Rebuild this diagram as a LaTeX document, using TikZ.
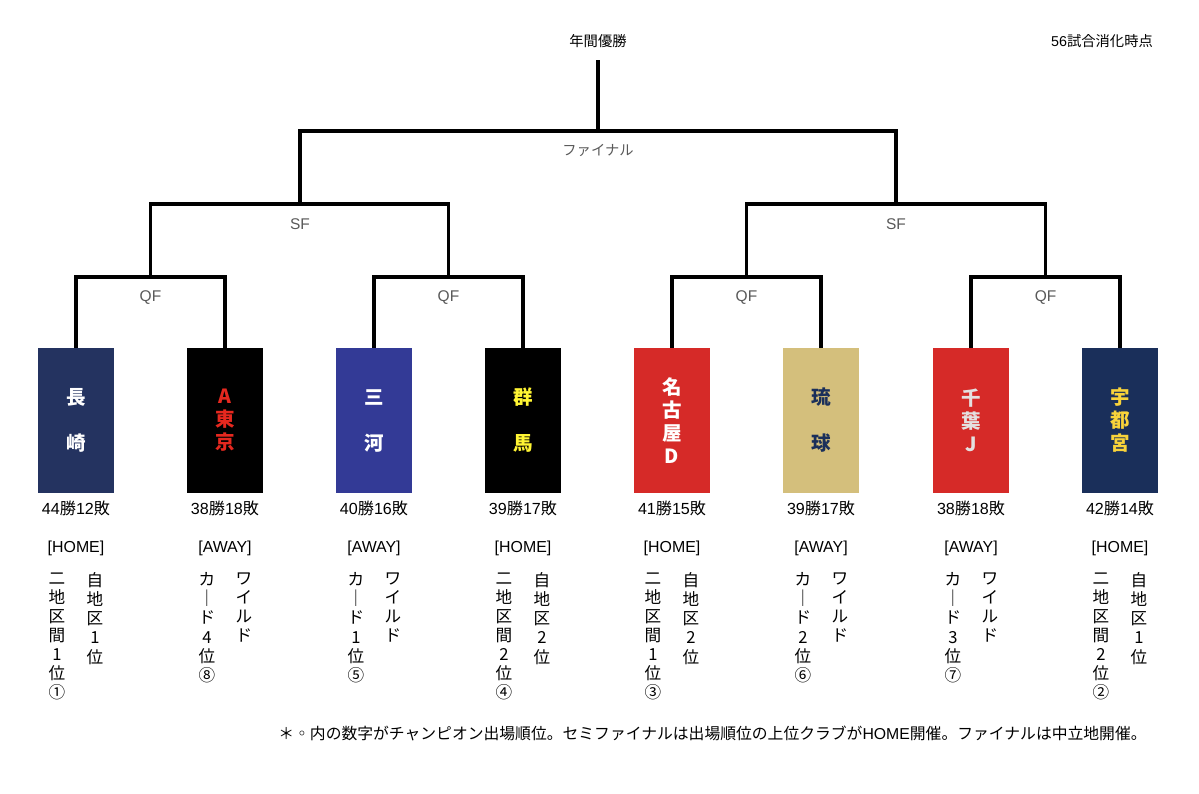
\documentclass[tikz,border=0pt]{standalone}
\usepackage{fontspec}
\setmainfont{Liberation Sans}
\newfontfamily\jp{Noto Sans CJK JP}
\usepackage{tikz}
\usetikzlibrary{positioning}

\definecolor{navya}{HTML}{243360}
\definecolor{navyb}{HTML}{1A2F5A}
\definecolor{royal}{HTML}{333A96}
\definecolor{crimson}{HTML}{D62A28}
\definecolor{sand}{HTML}{D4BF7C}
\definecolor{lemon}{HTML}{FFF533}
\definecolor{golden}{HTML}{F9D33A}
\definecolor{silver}{HTML}{E4E0E0}
\definecolor{scarlet}{HTML}{E5281F}

\begin{document}
\begin{tikzpicture}
    [ x = 1pt
    , y = -1pt
    , team/.style =
      { minimum width=76pt, minimum height=145pt, inner sep=0pt, align=center
      , font=\fontsize{19.5}{23}\selectfont\jp\bfseries }
    , record/.style =
      { inner sep=0pt, text height=12pt, text depth=3pt, font=\fontsize{16.1}{19}\selectfont }
    , side/.style =
      { inner sep=0pt, text height=12pt, text depth=3pt, font=\fontsize{15.9}{19}\selectfont }
    , column/.style =
      { inner sep=0pt, align=center, anchor=north, font=\fontsize{16.6}{19.1}\selectfont\jp
      , execute at begin node={\rule{0pt}{13pt}} }
    , round/.style =
      { inner sep=0pt, text=black!65, font=\fontsize{15.5}{17}\selectfont }
    , caption/.style =
      { inner sep=0pt, font=\fontsize{14.3}{17}\selectfont }
    , bracket/.style =
      { line width=3.4pt }
    ]
    \useasboundingbox (0,0) rectangle (1199,793);

    \node [team,fill=navya,text=white] (nagasaki) at (76,420.5) {長\\[23pt]崎};
    \node [team,fill=black,text=scarlet] (atokyo) at (225,420.5) {A\\東\\京};
    \node [team,fill=royal,text=white] (mikawa) at (374,420.5) {三\\[23pt]河};
    \node [team,fill=black,text=lemon] (gunma) at (523,420.5) {群\\[23pt]馬};
    \node [team,fill=crimson,text=white] (nagoya) at (672,420.5) {名\\古\\屋\\D};
    \node [team,fill=sand,text=navyb] (ryukyu) at (821,420.5) {琉\\[23pt]球};
    \node [team,fill=crimson,text=silver] (chiba) at (971,420.5) {千\\葉\\J};
    \node [team,fill=navyb,text=golden] (utsunomiya) at (1120,420.5) {宇\\都\\宮};

    \node [record] (nagasakirec) [below=9.5pt of nagasaki] {44{\jp 勝}12{\jp 敗}};
    \node [record] (atokyorec) [below=9.5pt of atokyo] {38{\jp 勝}18{\jp 敗}};
    \node [record] (mikawarec) [below=9.5pt of mikawa] {40{\jp 勝}16{\jp 敗}};
    \node [record] (gunmarec) [below=9.5pt of gunma] {39{\jp 勝}17{\jp 敗}};
    \node [record] (nagoyarec) [below=9.5pt of nagoya] {41{\jp 勝}15{\jp 敗}};
    \node [record] (ryukyurec) [below=9.5pt of ryukyu] {39{\jp 勝}17{\jp 敗}};
    \node [record] (chibarec) [below=9.5pt of chiba] {38{\jp 勝}18{\jp 敗}};
    \node [record] (utsunomiyarec) [below=9.5pt of utsunomiya] {42{\jp 勝}14{\jp 敗}};

    \node [side] (nagasakiside) [below=22pt of nagasakirec] {[HOME]};
    \node [side] (atokyoside) [below=22pt of atokyorec] {[AWAY]};
    \node [side] (mikawaside) [below=22pt of mikawarec] {[AWAY]};
    \node [side] (gunmaside) [below=22pt of gunmarec] {[HOME]};
    \node [side] (nagoyaside) [below=22pt of nagoyarec] {[HOME]};
    \node [side] (ryukyuside) [below=22pt of ryukyurec] {[AWAY]};
    \node [side] (chibaside) [below=22pt of chibarec] {[AWAY]};
    \node [side] (utsunomiyaside) [below=22pt of utsunomiyarec] {[HOME]};

    \node [column] (nagasakiall) at ([xshift=-19pt,yshift=-17pt]nagasakiside.south) {二\\地\\区\\間\\1\\位\\①};
    \node [column] (nagasakidiv) at ([xshift=19pt,yshift=-17pt]nagasakiside.south) {自\\地\\区\\1\\位};
    \node [column] (atokyoall) at ([xshift=-18pt,yshift=-17pt]atokyoside.south) {カ\\｜\\ド\\4\\位\\⑧};
    \node [column] (atokyodiv) at ([xshift=19pt,yshift=-17pt]atokyoside.south) {ワ\\イ\\ル\\ド};
    \node [column] (mikawaall) at ([xshift=-18pt,yshift=-17pt]mikawaside.south) {カ\\｜\\ド\\1\\位\\⑤};
    \node [column] (mikawadiv) at ([xshift=19pt,yshift=-17pt]mikawaside.south) {ワ\\イ\\ル\\ド};
    \node [column] (gunmaall) at ([xshift=-19pt,yshift=-17pt]gunmaside.south) {二\\地\\区\\間\\2\\位\\④};
    \node [column] (gunmadiv) at ([xshift=19pt,yshift=-17pt]gunmaside.south) {自\\地\\区\\2\\位};
    \node [column] (nagoyaall) at ([xshift=-19pt,yshift=-17pt]nagoyaside.south) {二\\地\\区\\間\\1\\位\\③};
    \node [column] (nagoyadiv) at ([xshift=19pt,yshift=-17pt]nagoyaside.south) {自\\地\\区\\2\\位};
    \node [column] (ryukyuall) at ([xshift=-18pt,yshift=-17pt]ryukyuside.south) {カ\\｜\\ド\\2\\位\\⑥};
    \node [column] (ryukyudiv) at ([xshift=19pt,yshift=-17pt]ryukyuside.south) {ワ\\イ\\ル\\ド};
    \node [column] (chibaall) at ([xshift=-18pt,yshift=-17pt]chibaside.south) {カ\\｜\\ド\\3\\位\\⑦};
    \node [column] (chibadiv) at ([xshift=19pt,yshift=-17pt]chibaside.south) {ワ\\イ\\ル\\ド};
    \node [column] (utsunomiyaall) at ([xshift=-19pt,yshift=-17pt]utsunomiyaside.south) {二\\地\\区\\間\\2\\位\\②};
    \node [column] (utsunomiyadiv) at ([xshift=19pt,yshift=-17pt]utsunomiyaside.south) {自\\地\\区\\1\\位};

    \coordinate (qfa) at (150.5,277);
    \coordinate (qfb) at (448.5,277);
    \coordinate (qfc) at (746.5,277);
    \coordinate (qfd) at (1045.5,277);
    \coordinate (sfa) at (300,204);
    \coordinate (sfb) at (896,204);
    \coordinate (final) at (598,131);
    \coordinate (top) at (598,60);

    \draw [bracket] (nagasaki) |- (qfa) -| (atokyo);
    \draw [bracket] (mikawa) |- (qfb) -| (gunma);
    \draw [bracket] (nagoya) |- (qfc) -| (ryukyu);
    \draw [bracket] (chiba) |- (qfd) -| (utsunomiya);
    \draw [bracket] (qfa) |- (sfa) -| (qfb);
    \draw [bracket] (qfc) |- (sfb) -| (qfd);
    \draw [bracket] (sfa) |- (final) -| (sfb);
    \draw [bracket] (top) -- (final);

    \node [round] (qfalabel) [below=13pt of qfa] {QF};
    \node [round] (qfblabel) [below=13pt of qfb] {QF};
    \node [round] (qfclabel) [below=13pt of qfc] {QF};
    \node [round] (qfdlabel) [below=13pt of qfd] {QF};
    \node [round] (sfalabel) [below=14pt of sfa] {SF};
    \node [round] (sfblabel) [below=14pt of sfb] {SF};
    \node [round,font=\fontsize{14.3}{17}\selectfont\jp] (finallabel) [below=13pt of final] {ファイナル};

    \node [caption,font=\fontsize{14.3}{17}\selectfont\jp] (champion) at (598,41) {年間優勝};
    \node [caption] (played) at (1102,41) {56{\jp 試合消化時点}};
    \node [caption,font=\fontsize{15.8}{18}\selectfont\jp] (note) at (712.5,733) {＊◦内の数字がチャンピオン出場順位。セミファイナルは出場順位の上位クラブが{\rmfamily HOME}開催。ファイナルは中立地開催。};
\end{tikzpicture}
\end{document}
